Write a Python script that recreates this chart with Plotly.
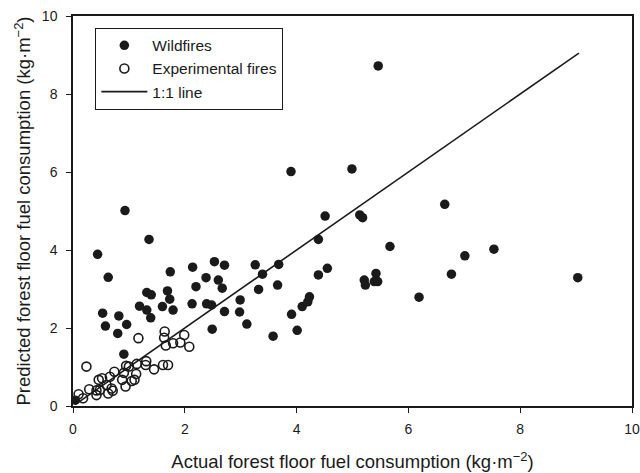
import plotly.graph_objects as go

# Wildfires (actual, predicted)
wild_x = [0.04, 0.44, 0.63, 0.53, 0.58, 0.82, 0.80, 0.96, 0.91, 0.93, 1.36, 1.19, 1.32, 1.39,
          1.32, 1.40, 1.60, 1.69, 1.73, 1.79, 1.74, 2.14, 2.20, 2.13, 2.38, 2.53, 2.71, 2.60,
          2.67, 2.39, 2.48, 2.49, 2.71, 2.99, 2.98, 3.11, 3.26, 3.32, 3.39, 3.68, 3.66, 3.58,
          3.91, 4.01, 4.10, 4.20, 4.23, 4.39, 4.39, 4.51, 4.55, 5.13, 5.18, 5.67, 5.21, 5.23,
          5.42, 5.39, 5.45, 6.19, 6.65, 7.01, 6.77, 7.53, 9.03, 5.46, 3.90, 4.99]
wild_y = [0.15, 3.89, 3.30, 2.38, 2.05, 2.31, 1.86, 2.09, 1.33, 5.01, 4.27, 2.56, 2.46, 2.26,
          2.91, 2.85, 2.55, 2.95, 2.74, 2.46, 3.44, 3.56, 3.06, 2.62, 3.29, 3.70, 3.61, 3.23,
          3.02, 2.62, 2.59, 1.97, 2.42, 2.72, 2.41, 2.10, 3.62, 2.99, 3.38, 3.63, 3.10, 1.79,
          2.35, 1.94, 2.55, 2.67, 2.80, 3.36, 4.27, 4.87, 3.53, 4.90, 4.83, 4.09, 3.23, 3.10,
          3.40, 3.19, 3.19, 2.79, 5.17, 3.85, 3.38, 4.02, 3.29, 8.72, 6.01, 6.08]

# Experimental fires (actual, predicted)
exp_x = [0.24, 1.17, 1.64, 1.63, 1.66, 1.79, 1.99, 1.92, 2.08, 1.61, 1.70, 1.45, 1.31, 1.14,
         1.13, 1.05, 0.94, 1.00, 0.91, 0.74, 0.66, 0.52, 0.46, 0.60, 0.71, 0.63, 0.42, 0.42,
         0.29, 0.18, 0.10, 0.95, 1.10, 0.88, 0.48, 0.69, 1.30]
exp_y = [1.01, 1.74, 1.91, 1.75, 1.55, 1.61, 1.82, 1.63, 1.52, 1.05, 1.05, 0.94, 1.15, 1.08,
         0.82, 0.64, 0.50, 1.01, 0.85, 0.88, 0.75, 0.71, 0.67, 0.54, 0.39, 0.32, 0.28, 0.40,
         0.43, 0.20, 0.30, 1.03, 0.67, 0.67, 0.41, 0.45, 1.05]

# 1:1 line
line_x = [0.05, 9.05]
line_y = [0.05, 9.05]

tick_vals = [0, 2, 4, 6, 8, 10]
tick_text = ["0", "2", "4", "6", "8", "10"]

FONT = "Liberation Sans, Arial"

axis_common = dict(range=[0, 10], tickvals=tick_vals, ticktext=tick_text,
                   showgrid=False, zeroline=False, showline=True, linecolor="#1a1a1a",
                   linewidth=1.5, mirror=True, ticks="outside", ticklen=5,
                   tickcolor="#1a1a1a", tickwidth=1, automargin=False,
                   tickfont=dict(family=FONT, size=14, color="#1a1a1a"))

fig = go.Figure()
fig.add_trace(go.Scatter(x=wild_x, y=wild_y, mode="markers", name="Wildfires",
                         marker=dict(symbol="circle", size=9.5, color="#1a1a1a",
                                     line=dict(width=0))))
fig.add_trace(go.Scatter(x=exp_x, y=exp_y, mode="markers", name="Experimental fires",
                         marker=dict(symbol="circle-open", size=9, color="#1a1a1a",
                                     line=dict(width=1.6))))
fig.add_trace(go.Scatter(x=line_x, y=line_y, mode="lines", name="1:1 line",
                         line=dict(color="#1a1a1a", width=1.6)))

fig.update_layout(
    width=640, height=473,
    margin=dict(l=73, r=8, t=16, b=67),
    paper_bgcolor="white", plot_bgcolor="white",
    font=dict(family=FONT, size=14, color="#1a1a1a"),
    xaxis=dict(**axis_common, ticklabelstandoff=4,
               title=dict(text="Actual forest floor fuel consumption (kg·m<sup>−2</sup>)",
                          font=dict(family=FONT, size=18.5), standoff=20)),
    yaxis=dict(**axis_common, ticklabelstandoff=6,
               title=dict(text="Predicted forest floor fuel consumption (kg·m<sup>−2</sup>)",
                          font=dict(family=FONT, size=18.5), standoff=6)),
    legend=dict(x=0.04, y=0.97, xanchor="left", yanchor="top",
                bordercolor="#1a1a1a", borderwidth=1, bgcolor="white",
                font=dict(family=FONT, size=15.5), itemwidth=46, tracegroupgap=0),
    showlegend=True,
)

fig.write_html("out.html")
